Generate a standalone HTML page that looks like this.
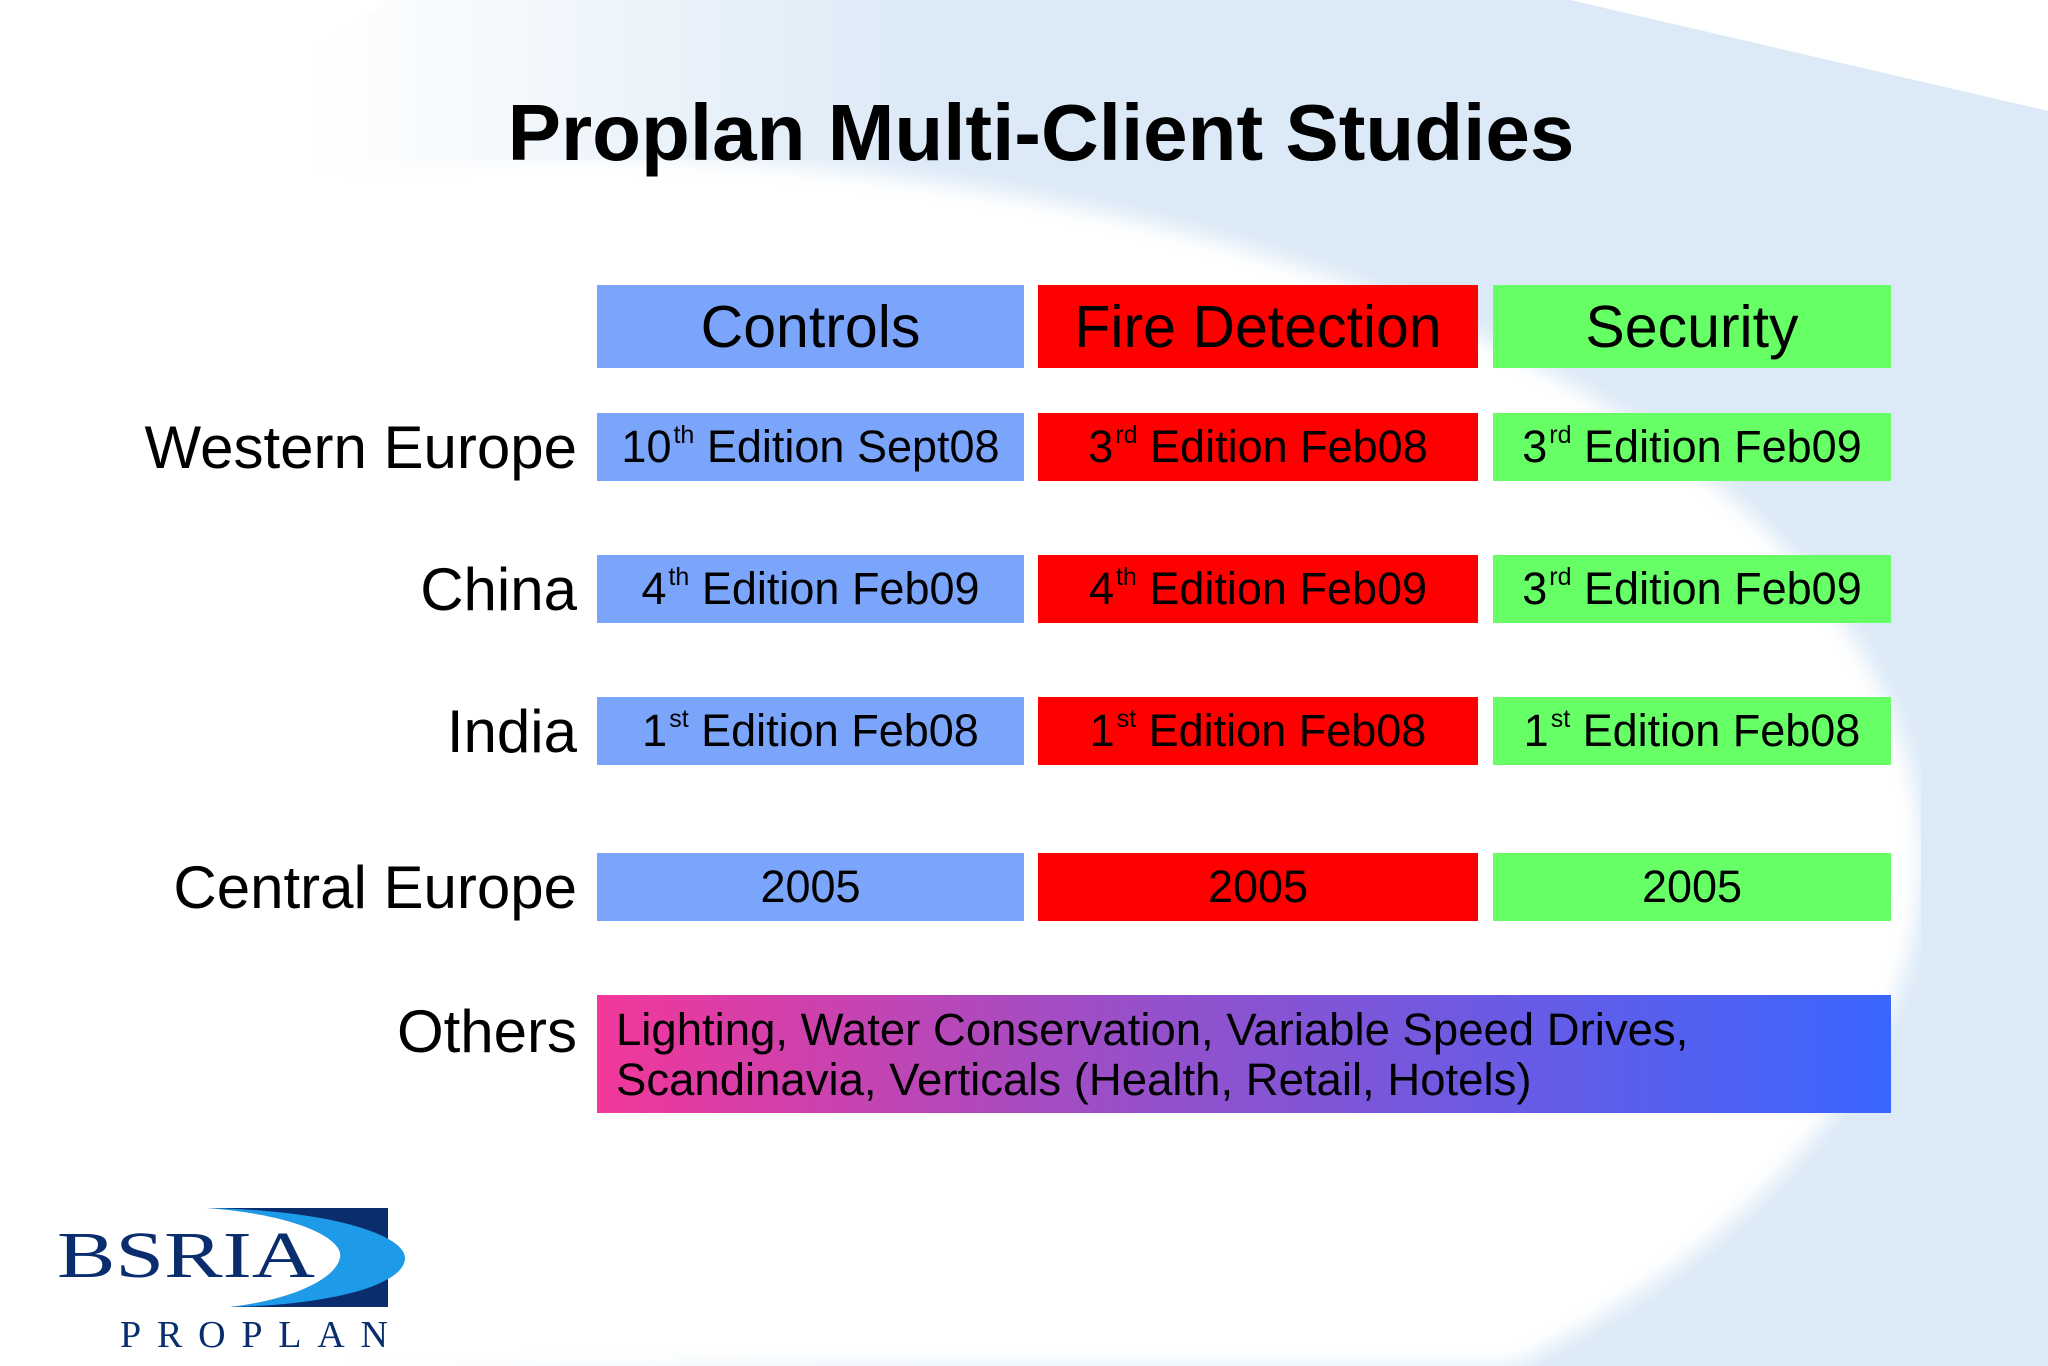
<!DOCTYPE html>
<html style="overflow:hidden"><head><meta charset="utf-8"><style>
*{margin:0;padding:0;box-sizing:border-box}
html,body{width:2048px;height:1366px;overflow:hidden}
body{position:relative;background:#fff;font-family:"Liberation Sans",Arial,sans-serif;color:#000}
.abs{position:absolute}
.cell{position:absolute;display:flex;align-items:center;justify-content:center;font-size:45px;white-space:nowrap}
.cell sup{font-size:25px;vertical-align:0;position:relative;top:-12px;margin-left:2px}
.hdr{font-size:59px}
.c{background:#7BA4FB}.f{background:#FF0000}.s{background:#66FF66}
.lbl{position:absolute;right:1471px;font-size:60px;white-space:nowrap;display:flex;align-items:center;height:68px}
</style></head><body>
<svg class="abs" width="2048" height="1366" style="left:0;top:0;overflow:hidden">
<defs><filter id="bl" x="0" y="0" width="1" height="1"><feGaussianBlur stdDeviation="10"/></filter>
<clipPath id="cp"><rect x="0" y="0" width="2048" height="1366"/></clipPath>
<linearGradient id="fd" x1="0" y1="0" x2="1" y2="0"><stop offset="0.15" stop-color="#DCEAF7" stop-opacity="0"/><stop offset="0.45" stop-color="#DCEAF7"/></linearGradient></defs>
<g clip-path="url(#cp)">
<polygon points="390,0 1570,0 2048,111 2048,1366 0,1366 0,250" fill="url(#fd)"/>
<path d="M0,236 A1321,700 0 0 1 1921,860 A1321,700 0 0 1 1513,1366 L0,1366 Z" fill="#fff" filter="url(#bl)"/>
</g>
</svg>
<div class="abs" style="left:0;width:2048px;padding-left:34px;top:88px;text-align:center;font-weight:bold;font-size:80px;line-height:90px">Proplan Multi-Client Studies</div>

<div class="cell hdr c" style="left:597px;width:427px;top:285px;height:83px">Controls</div>
<div class="cell hdr f" style="left:1038px;width:440px;top:285px;height:83px">Fire Detection</div>
<div class="cell hdr s" style="left:1493px;width:398px;top:285px;height:83px">Security</div>

<div class="lbl" style="top:413px">Western Europe</div>
<div class="cell c" style="left:597px;width:427px;top:413px;height:68px">10<sup>th</sup>&nbsp;Edition Sept08</div>
<div class="cell f" style="left:1038px;width:440px;top:413px;height:68px">3<sup>rd</sup>&nbsp;Edition Feb08</div>
<div class="cell s" style="left:1493px;width:398px;top:413px;height:68px">3<sup>rd</sup>&nbsp;Edition Feb09</div>

<div class="lbl" style="top:555px">China</div>
<div class="cell c" style="left:597px;width:427px;top:555px;height:68px">4<sup>th</sup>&nbsp;Edition Feb09</div>
<div class="cell f" style="left:1038px;width:440px;top:555px;height:68px">4<sup>th</sup>&nbsp;Edition Feb09</div>
<div class="cell s" style="left:1493px;width:398px;top:555px;height:68px">3<sup>rd</sup>&nbsp;Edition Feb09</div>

<div class="lbl" style="top:697px">India</div>
<div class="cell c" style="left:597px;width:427px;top:697px;height:68px">1<sup>st</sup>&nbsp;Edition Feb08</div>
<div class="cell f" style="left:1038px;width:440px;top:697px;height:68px">1<sup>st</sup>&nbsp;Edition Feb08</div>
<div class="cell s" style="left:1493px;width:398px;top:697px;height:68px">1<sup>st</sup>&nbsp;Edition Feb08</div>

<div class="lbl" style="top:853px">Central Europe</div>
<div class="cell c" style="left:597px;width:427px;top:853px;height:68px">2005</div>
<div class="cell f" style="left:1038px;width:440px;top:853px;height:68px">2005</div>
<div class="cell s" style="left:1493px;width:398px;top:853px;height:68px">2005</div>

<div class="lbl" style="top:995px;height:72px">Others</div>
<div class="abs" style="left:597px;width:1294px;top:995px;height:118px;background:linear-gradient(90deg,#F2379A 0%,#9A4FC8 40%,#3A66FF 100%);font-size:45.5px;line-height:50px;padding:10px 0 0 19px;white-space:nowrap;overflow:hidden">Lighting, Water Conservation, Variable Speed Drives,<br>Scandinavia, Verticals (Health, Retail, Hotels)</div>

<svg class="abs" width="420" height="200" viewBox="0 1166 420 200" style="left:0;top:1166px">
<rect x="207" y="1208" width="181" height="99" fill="#0A2D6E"/>
<path d="M207,1208 C330,1210 405,1235 405,1258 C405,1285 330,1305 230,1307 C290,1300 335,1280 340,1258 C345,1240 300,1215 207,1208 Z" fill="#1E9BE8"/>
<path d="M207,1208 C300,1215 345,1240 340,1258 C335,1280 290,1300 230,1307 L200,1307 L200,1208 Z" fill="#fff"/>
<text x="57" y="1277" font-family="Liberation Serif,serif" font-size="66" fill="#0A2D6E" textLength="258" lengthAdjust="spacingAndGlyphs">BSRIA</text>
<text x="120" y="1347" font-family="Liberation Serif,serif" font-size="38" fill="#0A2D6E" textLength="268" lengthAdjust="spacing">PROPLAN</text>
</svg>
</body></html>
